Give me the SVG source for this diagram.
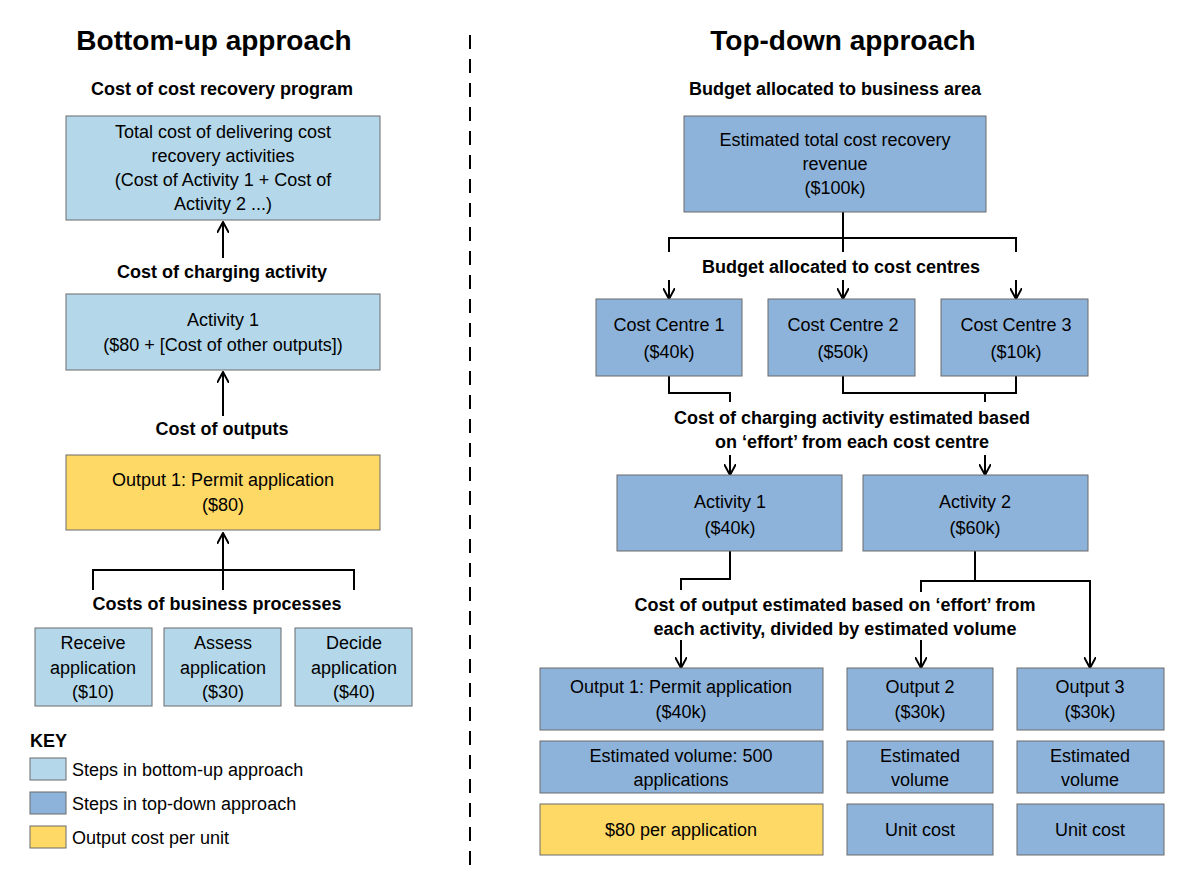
<svg xmlns="http://www.w3.org/2000/svg" width="1195" height="884" viewBox="0 0 1195 884">
<style>
text{font-family:"Liberation Sans",Arial,sans-serif;font-size:18px;fill:#000;text-anchor:middle}
.t{font-size:28px;font-weight:bold}
.b{font-weight:bold}
.k{text-anchor:start}
.lb{fill:#b4d8ea;stroke:#6b6b6b;stroke-width:1}
.db{fill:#8eb3da;stroke:#6b6b6b;stroke-width:1}
.ye{fill:#ffd966;stroke:#6b6b6b;stroke-width:1}
.c{fill:none;stroke:#000;stroke-width:2}
</style>
<defs><marker id="a" viewBox="0 0 12 12" refX="11" refY="6" markerWidth="12" markerHeight="12" markerUnits="userSpaceOnUse" orient="auto"><path d="M0,0 L11,6 L0,12" fill="none" stroke="#000" stroke-width="2"/></marker></defs>
<rect width="1195" height="884" fill="#fff"/>
<text class="t" x="214" y="50">Bottom-up approach</text>
<text class="t" x="843" y="50">Top-down approach</text>
<line x1="470" y1="35" x2="470" y2="870" stroke="#000" stroke-width="2" stroke-dasharray="14,10"/>
<text class="b" x="222" y="95">Cost of cost recovery program</text>
<text class="b" x="222" y="278">Cost of charging activity</text>
<text class="b" x="222" y="435">Cost of outputs</text>
<text class="b" x="217" y="610">Costs of business processes</text>
<text class="b" x="835" y="95">Budget allocated to business area</text>
<text class="b" x="841" y="273">Budget allocated to cost centres</text>
<text class="b" x="852" y="424">Cost of charging activity estimated based</text>
<text class="b" x="852" y="448">on ‘effort’ from each cost centre</text>
<text class="b" x="835" y="611">Cost of output estimated based on ‘effort’ from</text>
<text class="b" x="835" y="635">each activity, divided by estimated volume</text>
<g id="connectors">
<path class="c" marker-end="url(#a)" d="M223,258 V222"/>
<path class="c" marker-end="url(#a)" d="M223,416 V372"/>
<path class="c" d="M93,590 V570 H354 V590 M223,590 V570"/>
<path class="c" marker-end="url(#a)" d="M223,570 V533"/>
<path class="c" d="M843,212 V238 M669,252 V238 H1016 V252 M843,238 V252"/>
<path class="c" marker-end="url(#a)" d="M669,280 V299"/>
<path class="c" marker-end="url(#a)" d="M843,280 V299"/>
<path class="c" marker-end="url(#a)" d="M1016,280 V299"/>
<path class="c" d="M669,376 V393 H730 V402"/>
<path class="c" d="M843,376 V393 H1016 V376 M985,393 V402"/>
<path class="c" marker-end="url(#a)" d="M730,455 V475"/>
<path class="c" marker-end="url(#a)" d="M985,455 V475"/>
<path class="c" d="M730,551 V579 H681 V590"/>
<path class="c" d="M975,551 V581 M921,592 V581 H1090 V600"/>
<path class="c" marker-end="url(#a)" d="M681,640 V668"/>
<path class="c" marker-end="url(#a)" d="M921,640 V668"/>
<path class="c" marker-end="url(#a)" d="M1090,600 V668"/>
</g>
<g id="n1"><rect class="lb" x="66" y="116" width="314" height="104"/><text x="223" y="138">Total cost of delivering cost</text><text x="223" y="162">recovery activities</text><text x="223" y="186">(Cost of Activity 1 + Cost of</text><text x="223" y="210">Activity 2 ...)</text></g>
<g id="n2"><rect class="lb" x="66" y="294" width="314" height="76"/><text x="223" y="326">Activity 1</text><text x="223" y="351">($80 + [Cost of other outputs])</text></g>
<g id="n3"><rect class="ye" x="66" y="455" width="314" height="75"/><text x="223" y="486">Output 1: Permit application</text><text x="223" y="511">($80)</text></g>
<g id="n4"><rect class="lb" x="35" y="628" width="117" height="78"/><text x="93" y="649">Receive</text><text x="93" y="674">application</text><text x="93" y="698">($10)</text></g>
<g id="n5"><rect class="lb" x="164" y="628" width="117" height="78"/><text x="223" y="649">Assess</text><text x="223" y="674">application</text><text x="223" y="698">($30)</text></g>
<g id="n6"><rect class="lb" x="295" y="628" width="117" height="78"/><text x="354" y="649">Decide</text><text x="354" y="674">application</text><text x="354" y="698">($40)</text></g>
<g id="key"><text class="b k" x="30" y="747">KEY</text>
<rect class="lb" x="30" y="758" width="36" height="22"/><text class="k" x="72" y="776">Steps in bottom-up approach</text>
<rect class="db" x="30" y="792" width="36" height="22"/><text class="k" x="72" y="810">Steps in top-down approach</text>
<rect class="ye" x="30" y="826" width="36" height="22"/><text class="k" x="72" y="844">Output cost per unit</text></g>
<g id="r1"><rect class="db" x="684" y="116" width="302" height="96"/><text x="835" y="146">Estimated total cost recovery</text><text x="835" y="170">revenue</text><text x="835" y="194">($100k)</text></g>
<g id="cc1"><rect class="db" x="596" y="299" width="146" height="77"/><text x="669" y="331">Cost Centre 1</text><text x="669" y="358">($40k)</text></g>
<g id="cc2"><rect class="db" x="768" y="299" width="147" height="77"/><text x="843" y="331">Cost Centre 2</text><text x="843" y="358">($50k)</text></g>
<g id="cc3"><rect class="db" x="941" y="299" width="147" height="77"/><text x="1016" y="331">Cost Centre 3</text><text x="1016" y="358">($10k)</text></g>
<g id="a1"><rect class="db" x="617" y="475" width="225" height="76"/><text x="730" y="508">Activity 1</text><text x="730" y="534">($40k)</text></g>
<g id="a2"><rect class="db" x="863" y="475" width="225" height="76"/><text x="975" y="508">Activity 2</text><text x="975" y="534">($60k)</text></g>
<g id="o1"><rect class="db" x="540" y="668" width="283" height="62"/><text x="681" y="693">Output 1: Permit application</text><text x="681" y="718">($40k)</text></g>
<g id="o2"><rect class="db" x="847" y="668" width="146" height="62"/><text x="920" y="693">Output 2</text><text x="920" y="718">($30k)</text></g>
<g id="o3"><rect class="db" x="1017" y="668" width="147" height="62"/><text x="1090" y="693">Output 3</text><text x="1090" y="718">($30k)</text></g>
<g id="v1"><rect class="db" x="540" y="741" width="283" height="52"/><text x="681" y="762">Estimated volume: 500</text><text x="681" y="786">applications</text></g>
<g id="v2"><rect class="db" x="847" y="741" width="146" height="52"/><text x="920" y="762">Estimated</text><text x="920" y="786">volume</text></g>
<g id="v3"><rect class="db" x="1017" y="741" width="147" height="52"/><text x="1090" y="762">Estimated</text><text x="1090" y="786">volume</text></g>
<g id="u1"><rect class="ye" x="540" y="804" width="283" height="51"/><text x="681" y="836">$80 per application</text></g>
<g id="u2"><rect class="db" x="847" y="804" width="146" height="51"/><text x="920" y="836">Unit cost</text></g>
<g id="u3"><rect class="db" x="1017" y="804" width="147" height="51"/><text x="1090" y="836">Unit cost</text></g>
</svg>
